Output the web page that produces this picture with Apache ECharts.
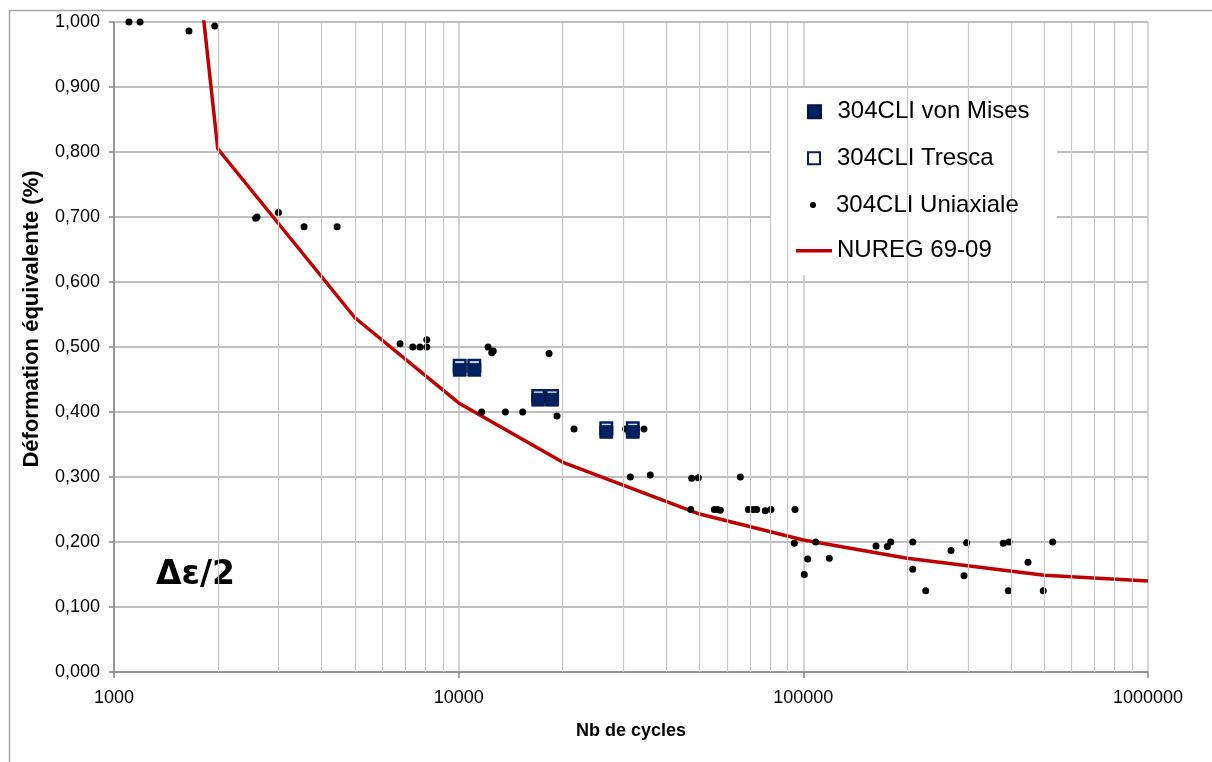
<!DOCTYPE html>
<html>
<head>
<meta charset="utf-8">
<script src="https://cdn.jsdelivr.net/npm/echarts@6/dist/echarts.min.js"></script>
<style>
html,body{margin:0;padding:0;background:#fff;}
#chart{width:1212px;height:762px;}
</style>
</head>
<body>
<div id="chart"></div>
<script>
// ---- data ----
const uniaxN = [1105,1190,1650,1960,2577,2600,3000,3560,4440,6760,7360,7720,8080,8080,12170,12470,12600,18290,11660,13660,15340,19290,21610,30510,34490,31480,35970,47430,49580,65650,47130,55190,56420,57420,69240,71550,73200,77560,80590,94580,94150,108620,102940,118940,100640,162500,175200,179300,207700,207700,226500,268200,297800,292600,380400,395100,448600,393300,496800,529000];
const uniaxV = [1.000,1.000,0.986,0.994,0.698,0.700,0.707,0.685,0.685,0.505,0.500,0.500,0.500,0.511,0.500,0.491,0.494,0.490,0.400,0.400,0.400,0.394,0.374,0.374,0.374,0.300,0.303,0.298,0.299,0.300,0.250,0.250,0.250,0.249,0.250,0.250,0.250,0.248,0.250,0.250,0.198,0.200,0.174,0.175,0.150,0.194,0.193,0.200,0.200,0.158,0.125,0.187,0.199,0.148,0.198,0.200,0.169,0.125,0.125,0.200];
const multiN = [10070,11100,17020,18660,26810,32000];
const vonMisesV = [0.465,0.465,0.419,0.419,0.3695,0.3695];
const trescaV = [0.471,0.471,0.4245,0.4245,0.375,0.375];
const nuregN = [1000,2000,5000,10000,20000,50000,100000,200000,500000,1000000];
const nuregV = [2.27,0.805,0.545,0.414,0.323,0.243,0.203,0.175,0.149,0.140];
const minorTicks = [2000,3000,4000,5000,6000,7000,8000,9000,20000,30000,40000,50000,60000,70000,80000,90000,200000,300000,400000,500000,600000,700000,800000,900000];
const seriesNames = ['304CLI von Mises','304CLI Tresca','304CLI Uniaxiale','NUREG 69-09'];

const pairs = (xs, ys) => xs.map((x, i) => [x, ys[i]]);
const FONT = '"Liberation Sans", Arial, sans-serif';
const NAVY = '#002060';

const chart = echarts.init(document.getElementById('chart'), null, {renderer: 'canvas'});

const SQUARE = 'path://M0,0H10V10H0Z';
const legendTops = [97.7, 144.3, 191, 236.7];
const legendItems = [
  {icon: SQUARE, h: 13, keep: true, left: 807},
  {icon: SQUARE, h: 12, keep: true, left: 807},
  {icon: 'circle', h: 6, keep: true, left: 810},
  {icon: 'rect', h: 3.5, keep: false, left: 796}
];
const legends = seriesNames.map((n, i) => ({
  data: [{name: n, icon: legendItems[i].icon}],
  left: legendItems[i].left,
  top: legendTops[i],
  padding: 0,
  z: 20,
  itemWidth: 36,
  itemHeight: legendItems[i].h,
  symbolKeepAspect: legendItems[i].keep,
  selectedMode: false,
  textStyle: {fontFamily: FONT, fontSize: 24, color: '#000', lineHeight: 28}
}));

chart.setOption({
  animation: false,
  backgroundColor: '#fff',
  grid: {left: 114, top: 22, right: 64, bottom: 90, containLabel: false},
  legend: legends,
  graphic: [
    {type: 'rect', left: 7, top: 8, z: -10, silent: true,
     shape: {width: 1300, height: 900},
     style: {fill: 'none', stroke: '#a6a6a6', lineWidth: 1.5}},
    {type: 'rect', left: 770, top: 88, z: 1, silent: true,
     shape: {width: 287, height: 187},
     style: {fill: '#fff'}},
    {type: 'text', left: 156, top: 559, z: 5, silent: true,
     style: {text: 'Δε/2', font: 'bold 33px "DejaVu Sans", sans-serif', fill: '#000'}},
    {type: 'text', x: 32, y: 319, rotation: Math.PI / 2, z: 5, silent: true,
     style: {text: 'Déformation équivalente (%)', font: 'bold 22px ' + FONT, fill: '#000',
             align: 'center', verticalAlign: 'middle'}}
  ],
  xAxis: {
    type: 'log', logBase: 10, min: 1000, max: 1000000,
    name: 'Nb de cycles', nameLocation: 'middle', nameGap: 50,
    nameTextStyle: {fontFamily: FONT, fontSize: 18, fontWeight: 'bold', color: '#000'},
    axisLine: {show: true, onZero: false, lineStyle: {color: '#868686', width: 1.5}},
    axisTick: {show: true, inside: false, length: 6, lineStyle: {color: '#868686', width: 1.5}},
    axisLabel: {fontFamily: FONT, fontSize: 18, color: '#000', margin: 17,
                formatter: v => String(Math.round(v))},
    splitLine: {show: true, lineStyle: {color: '#c4c4c4', width: 1.5}},
    minorTick: {show: false}, minorSplitLine: {show: false}
  },
  yAxis: {
    type: 'value', min: 0, max: 1, interval: 0.1,
    axisLine: {show: true, lineStyle: {color: '#868686', width: 1.5}},
    axisTick: {show: true, inside: false, length: 5, lineStyle: {color: '#868686', width: 1.5}},
    axisLabel: {fontFamily: FONT, fontSize: 18, color: '#000', margin: 14,
                formatter: v => v.toFixed(3).replace('.', ',')},
    splitLine: {show: true, lineStyle: {color: '#aaaaaa', width: 1.5}}
  },
  series: [
    {
      name: 'minor', type: 'scatter', data: [], silent: true, z: 0,
      markLine: {
        silent: true, symbol: ['none', 'none'], animation: false,
        label: {show: false},
        lineStyle: {color: '#c8c8c8', width: 1.2, type: 'solid'},
        emphasis: {disabled: true},
        data: minorTicks.map(v => ({xAxis: v}))
      }
    },
    {
      name: seriesNames[0], type: 'scatter', z: 4,
      symbol: 'rect', symbolSize: 13,
      itemStyle: {color: NAVY, borderColor: '#001540', borderWidth: 0.8, opacity: 1},
      data: pairs(multiN, vonMisesV)
    },
    {
      name: seriesNames[1], type: 'scatter', z: 3,
      symbol: 'rect', symbolSize: 11.5,
      itemStyle: {color: '#fff', borderColor: NAVY, borderWidth: 2.5, opacity: 1},
      data: pairs(multiN, trescaV)
    },
    {
      name: seriesNames[2], type: 'scatter', z: 3,
      symbol: 'circle', symbolSize: 7,
      itemStyle: {color: '#000', opacity: 1},
      data: pairs(uniaxN, uniaxV)
    },
    {
      name: seriesNames[3], type: 'line', z: 2, clip: true,
      showSymbol: false, symbol: 'none',
      lineStyle: {color: '#c00000', width: 3.5},
      itemStyle: {color: '#c00000'},
      data: pairs(nuregN, nuregV)
    }
  ]
});
</script>
</body>
</html>
